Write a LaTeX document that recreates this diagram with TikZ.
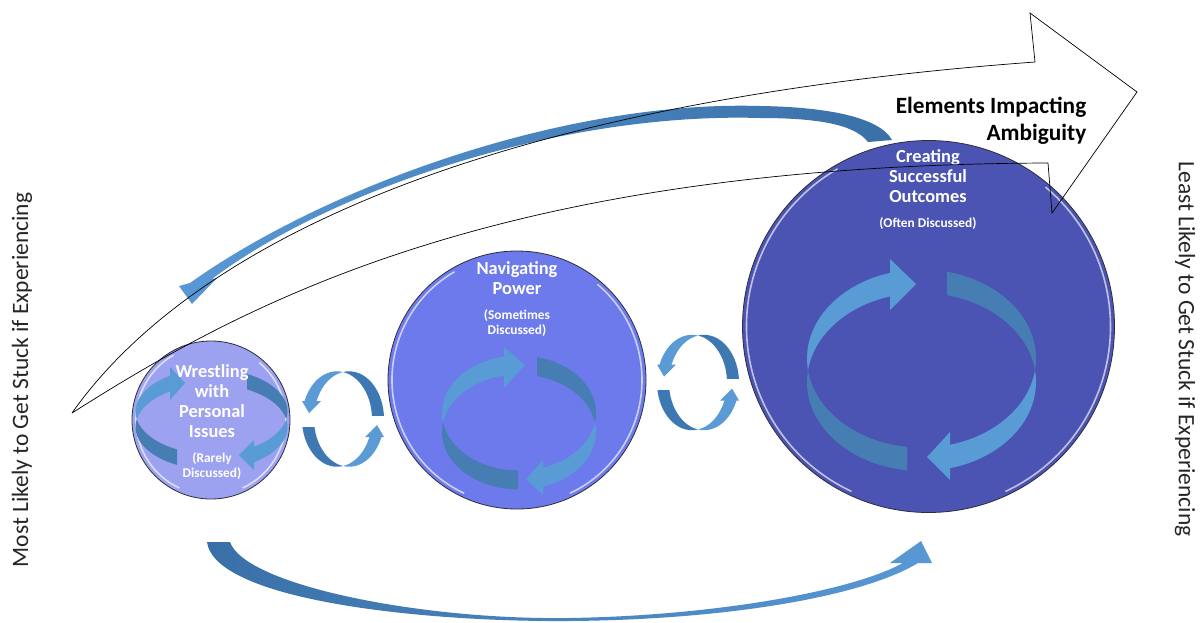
\documentclass[tikz,border=0pt]{standalone}
\usepackage{fontspec}
\setmainfont{Carlito}
\definecolor{cOne}{RGB}{157,162,240}
\definecolor{cTwo}{RGB}{108,122,235}
\definecolor{cThree}{RGB}{75,84,178}
\definecolor{ringlight}{RGB}{88,155,213}
\definecolor{ringdark}{RGB}{70,125,178}
\definecolor{iconlight}{RGB}{91,155,213}
\definecolor{icondark}{RGB}{62,120,178}
\definecolor{arrowlight}{RGB}{88,152,212}
\definecolor{arrowdark}{RGB}{58,112,168}
\definecolor{sidetext}{RGB}{38,38,38}
\definecolor{edgecol}{RGB}{45,45,60}
\newcommand{\myhring}[9]{%
  \pgfmathsetmacro{\myyint}{(#3+#4)/2}%
  \begin{scope}\clip ({#1-#2-4},{#3-#5-4}) rectangle (#6,\myyint);
    \fill[ringlight,even odd rule] (#1,#3) ellipse [x radius=#2,y radius=#5] (#1,#4) ellipse [x radius=#2,y radius=#5];
  \end{scope}
  \begin{scope}\clip (#7,{#3-#5-4}) rectangle ({#1+#2+4},\myyint);
    \fill[ringdark,even odd rule] (#1,#3) ellipse [x radius=#2,y radius=#5] (#1,#4) ellipse [x radius=#2,y radius=#5];
  \end{scope}
  \begin{scope}\clip (#8,\myyint) rectangle ({#1+#2+4},{#4+#5+4});
    \fill[ringlight,even odd rule] (#1,#3) ellipse [x radius=#2,y radius=#5] (#1,#4) ellipse [x radius=#2,y radius=#5];
  \end{scope}
  \begin{scope}\clip ({#1-#2-4},\myyint) rectangle (#9,{#4+#5+4});
    \fill[ringdark,even odd rule] (#1,#3) ellipse [x radius=#2,y radius=#5] (#1,#4) ellipse [x radius=#2,y radius=#5];
  \end{scope}
}
\newcommand{\myvring}[2]{%
  \begin{scope}[shift={(#1,#2)}]
    \begin{scope}\clip (0,-52) rectangle (45,-4);
      \fill[icondark,even odd rule] (-6,0) ellipse [x radius=35,y radius=47.7] (6,0) ellipse [x radius=35,y radius=47.7];
    \end{scope}
    \begin{scope}\clip (-45,-52) rectangle (0,-18);
      \fill[iconlight,even odd rule] (-6,0) ellipse [x radius=35,y radius=47.7] (6,0) ellipse [x radius=35,y radius=47.7];
    \end{scope}
    \begin{scope}\clip (-45,8) rectangle (0,52);
      \fill[icondark,even odd rule] (-6,0) ellipse [x radius=35,y radius=47.7] (6,0) ellipse [x radius=35,y radius=47.7];
    \end{scope}
    \begin{scope}\clip (0,18) rectangle (45,52);
      \fill[iconlight,even odd rule] (-6,0) ellipse [x radius=35,y radius=47.7] (6,0) ellipse [x radius=35,y radius=47.7];
    \end{scope}
    \fill[iconlight] (-41,-18) -- (-22,-18) -- (-34,-6) -- cycle;
    \fill[iconlight] (22,18) -- (41,18) -- (34,6) -- cycle;
  \end{scope}
}
\begin{document}
\begin{tikzpicture}[x=1pt,y=-1pt,
  bubble/.style={circle,draw=edgecol,line width=0.8pt,inner sep=0pt},
  rim/.style={white,line width=1.6pt,opacity=0.65},
  title/.style={text=white,font=\fontsize{18.4}{20}\selectfont\bfseries,align=center,inner sep=0pt},
  subt/.style={text=white,font=\fontsize{13.4}{15.5}\selectfont\bfseries,align=center,inner sep=0pt},
  elem/.style={text=black,font=\fontsize{23.3}{27.5}\selectfont\bfseries,align=right,inner sep=0pt},
  side/.style={text=sidetext,font=\fontsize{23.5}{26}\selectfont,inner sep=0pt},
  outl/.style={draw=black,line width=0.7pt,line join=miter}]
\useasboundingbox (0,0) rectangle (1201,622);
\fill[white] (0,0) rectangle (1201,622);

% bottom curved arrow
\shade[left color=arrowdark,right color=arrowlight]
  (207,542) .. controls (215,600) and (420,622) .. (568,621)
  .. controls (720,620) and (860,598) .. (918,563)
  -- (932,563) -- (921,541) -- (890,563) -- (903,563)
  .. controls (850,592) and (710,616) .. (568,618)
  .. controls (420,620) and (245,585) .. (230,542) -- cycle;

% top curved arrow
\shade[left color=arrowlight,right color=arrowdark]
  (179,286) -- (190,283) .. controls (320,190) and (560,100) .. (760,106)
  .. controls (830,107) and (880,118) .. (892,140) -- (868,142)
  .. controls (855,125) and (820,118) .. (760,118)
  .. controls (560,112) and (330,190) .. (212,279) -- (217,278) -- (192,304) -- cycle;

% circles
\node[bubble,fill=cOne,minimum size=158pt] (c1) at (211,420) {};
\node[bubble,fill=cTwo,minimum size=258pt] (c2) at (517,380) {};
\node[bubble,fill=cThree,minimum size=372pt] (c3) at (928.5,326.5) {};
\draw[rim] (c1.center) ++(115:75) arc[start angle=115,end angle=240,radius=75];
\draw[rim] (c1.center) ++(-50:75) arc[start angle=-50,end angle=65,radius=75];
\draw[rim] (c2.center) ++(115:125) arc[start angle=115,end angle=240,radius=125];
\draw[rim] (c2.center) ++(-50:125) arc[start angle=-50,end angle=65,radius=125];
\draw[rim] (c3.center) ++(115:182) arc[start angle=115,end angle=240,radius=182];
\draw[rim] (c3.center) ++(-50:182) arc[start angle=-50,end angle=65,radius=182];

% rings inside circles
\myhring{211.5}{76}{411.5}{427}{42.5}{170}{247}{254}{177}
\fill[ringlight] (170,367) -- (185,383) -- (170,400) -- cycle;
\fill[ringlight] (254,440) -- (239,455) -- (254,470) -- cycle;
\myhring{519}{77}{413}{432}{57.5}{504}{537}{543}{518}
\fill[ringlight] (504,347) -- (525,365) -- (504,388) -- cycle;
\fill[ringlight] (543,460) -- (526,479) -- (543,495) -- cycle;
\myhring{921.5}{114.5}{358.5}{382}{89}{890}{947}{950}{907}
\fill[ringlight] (890,259) -- (916,284) -- (890,310) -- cycle;
\fill[ringlight] (950,432) -- (927,457) -- (950,480) -- cycle;

% small cycle icons between circles
\myvring{343}{419}
\myvring{698}{382.5}

% texts
\node[title] (t1) at (212,401.5) {Wrestling\\with\\Personal\\Issues};
\node[subt] (s1) at (212,466) {(Rarely\\Discussed)};
\node[title] (t2) at (517,278.5) {Navigating\\Power};
\node[subt] (s2) at (517,323) {(Sometimes\\Discussed)};
\node[title] (t3) at (928,176.5) {Creating\\Successful\\Outcomes};
\node[subt] (s3) at (928,223.5) {(Often Discussed)};
\node[elem,anchor=east] (el) at (1086.5,121) {Elements Impacting\\Ambiguity};
\node[side,rotate=90] (most) at (22,380) {Most Likely to Get Stuck if Experiencing};
\node[side,rotate=-90] (least) at (1185,349) {Least Likely to Get Stuck if Experiencing};

% outline arrow
\coordinate (otip) at (72,413);
\draw[outl] (otip) .. controls (180,260) and (450,105) .. (1035,62) -- (1030,13) -- (1137,92)
  -- (1052,213) -- (1048,163) .. controls (500,165) and (250,300) .. (otip);
\end{tikzpicture}
\end{document}
